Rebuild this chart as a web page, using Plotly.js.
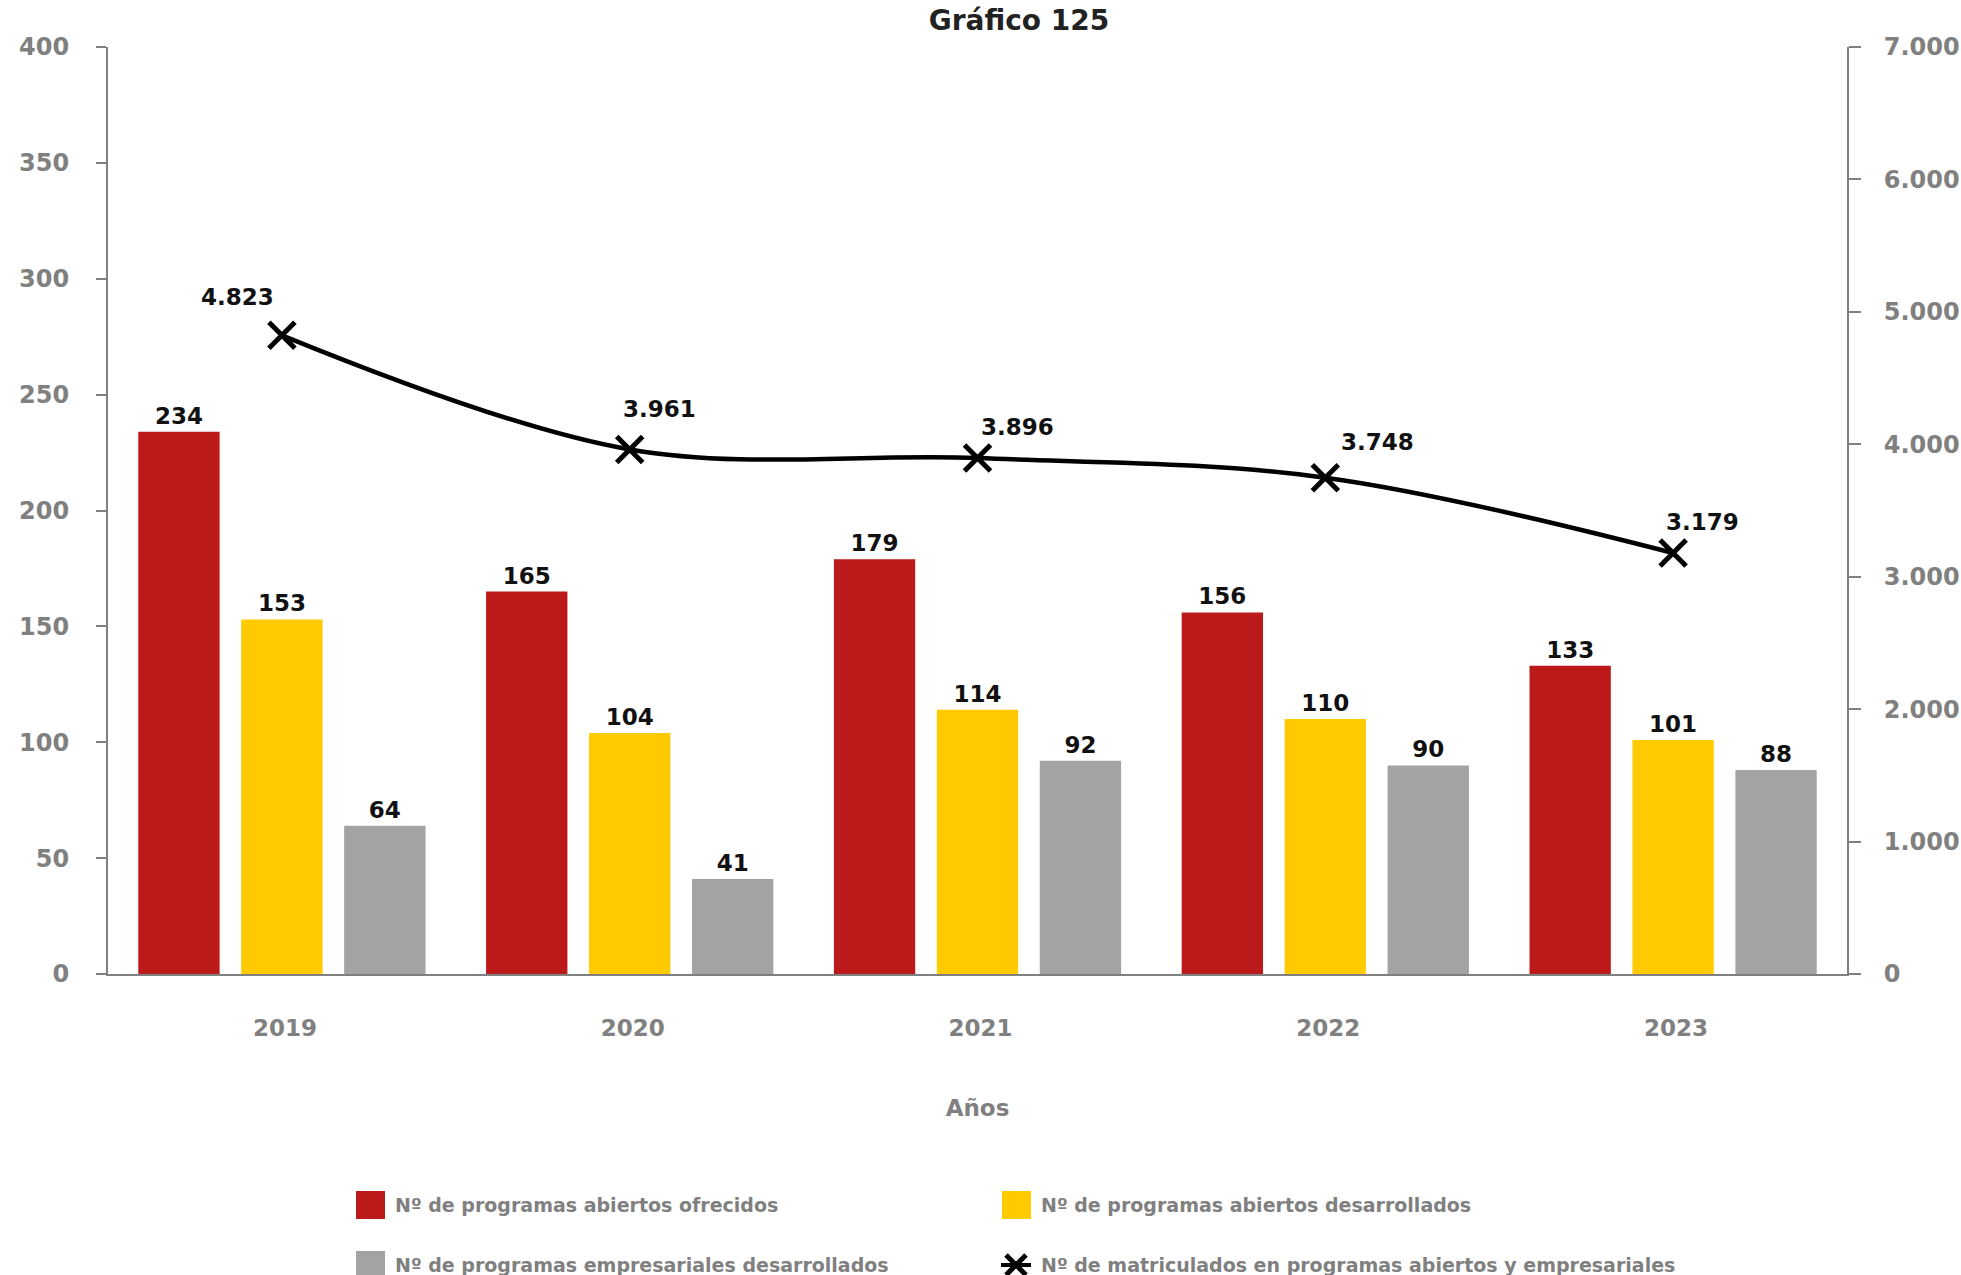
<!DOCTYPE html>
<html>
<head>
<meta charset="utf-8">
<script src="https://cdn.plot.ly/plotly-3.0.1.min.js"></script>
<style>
  html, body { margin: 0; padding: 0; background: #ffffff; }
  #chart { width: 1961px; height: 1275px; }
</style>
</head>
<body>
<div id="chart"></div>
<script>
// ---- Data ----
const years = ['2019', '2020', '2021', '2022', '2023'];
const abiertosOfrecidos = [234, 165, 179, 156, 133];
const abiertosDesarrollados = [153, 104, 114, 110, 101];
const empresarialesDesarrollados = [64, 41, 92, 90, 88];
const matriculados = [4823, 3961, 3896, 3748, 3179];

const seriesNames = [
  'Nº de programas abiertos ofrecidos',
  'Nº de programas abiertos desarrollados',
  'Nº de programas empresariales desarrollados',
  'Nº de matriculados en programas abiertos y empresariales'
];
const chartTitle = 'Gráfico 125';
const xTitle = 'Años';

// ---- Styles ----
const W = 1961, H = 1275;
const M = { l: 108, r: 114, t: 47, b: 301 };
const colors = ['#BC1A1A', '#FFCB00', '#A3A3A3', '#000000'];
const gray = '#808080';
const FONT = 'DejaVu Sans, sans-serif';
// label offsets (px) for line labels
const lineLabelShift = [[-44, 38], [30, 40], [40, 31], [52, 36], [29, 31]];

const plotW = W - M.l - M.r, plotH = H - M.t - M.b;
const px2x = px => (px - M.l) / plotW;
const py2y = py => (H - M.b - py) / plotH;

function barTrace(vals, i) {
  return {
    type: 'bar', x: years, y: vals, name: seriesNames[i],
    marker: { color: colors[i] },
    text: vals.map(String), textposition: 'outside',
    textfont: { family: FONT, size: 23, color: '#111111', weight: 700 },
    cliponaxis: false, showlegend: false, hoverinfo: 'skip'
  };
}

const traces = [
  barTrace(abiertosOfrecidos, 0),
  barTrace(abiertosDesarrollados, 1),
  barTrace(empresarialesDesarrollados, 2),
  {
    type: 'scatter', mode: 'lines+markers', x: years, y: matriculados, yaxis: 'y2',
    name: seriesNames[3],
    line: { color: '#000000', width: 4.5, shape: 'spline', smoothing: 1 },
    marker: { symbol: 'x-thin', size: 26, line: { color: '#000000', width: 5 } },
    cliponaxis: false, showlegend: false
  }
];

const fmt = v => v.toLocaleString('de-DE');

const annotations = matriculados.map((v, i) => ({
  x: i, y: v, xref: 'x', yref: 'y2', text: fmt(v), showarrow: false,
  xshift: lineLabelShift[i][0], yshift: lineLabelShift[i][1],
  font: { family: FONT, size: 23, color: '#111111', weight: 700 }
}));

// custom legend
const legendItems = [
  { x: 356, y: 1205, i: 0 }, { x: 1002, y: 1205, i: 1 },
  { x: 356, y: 1265, i: 2 }, { x: 1002, y: 1265, i: 3 }
];
const shapes = [];
legendItems.forEach(it => {
  if (it.i < 3) {
    shapes.push({ type: 'rect', xref: 'paper', yref: 'paper',
      x0: px2x(it.x), x1: px2x(it.x + 29), y0: py2y(it.y + 14), y1: py2y(it.y - 14),
      fillcolor: colors[it.i], line: { width: 0 } });
  } else {
    const cx = it.x + 14, cy = it.y;
    shapes.push({ type: 'line', xref: 'paper', yref: 'paper',
      x0: px2x(cx - 15), x1: px2x(cx + 15), y0: py2y(cy), y1: py2y(cy),
      line: { color: '#000', width: 4 } });
    shapes.push({ type: 'line', xref: 'paper', yref: 'paper',
      x0: px2x(cx - 10), x1: px2x(cx + 10), y0: py2y(cy - 10), y1: py2y(cy + 10),
      line: { color: '#000', width: 5 } });
    shapes.push({ type: 'line', xref: 'paper', yref: 'paper',
      x0: px2x(cx - 10), x1: px2x(cx + 10), y0: py2y(cy + 10), y1: py2y(cy - 10),
      line: { color: '#000', width: 5 } });
  }
  annotations.push({ xref: 'paper', yref: 'paper', x: px2x(it.x + 37), y: py2y(it.y),
    xanchor: 'left', yanchor: 'middle', showarrow: false, text: seriesNames[it.i],
    font: { family: FONT, size: 19, color: gray, weight: 700 } });
});

const tickFont = { family: FONT, size: 24, color: gray, weight: 700 };

const layout = {
  width: W, height: H,
  margin: M,
  paper_bgcolor: '#ffffff', plot_bgcolor: '#ffffff',
  separators: ',.',
  font: { family: FONT },
  title: {
    text: chartTitle, xref: 'container', yref: 'container',
    x: 1019 / W, y: 1 - 20 / H, xanchor: 'center', yanchor: 'middle',
    font: { family: FONT, size: 28, color: '#222222', weight: 700 }
  },
  barmode: 'group', bargap: 0.112, bargroupgap: 0.21,
  xaxis: {
    type: 'category', range: [-0.5, 4.5], showgrid: false, zeroline: false,
    showline: true, linecolor: gray, linewidth: 2,
    ticks: '', tickfont: { family: FONT, size: 23, color: gray, weight: 700 },
    ticklabelstandoff: 32, ticklabelshift: 3,
    title: { text: xTitle, font: { family: FONT, size: 23, color: gray, weight: 700 }, standoff: 60 },
    automargin: false
  },
  yaxis: {
    range: [0, 400], dtick: 50, showgrid: false, zeroline: false,
    showline: true, linecolor: gray, linewidth: 2,
    ticks: 'outside', ticklen: 10, tickwidth: 2, tickcolor: gray,
    tickfont: tickFont, ticklabelstandoff: 22, automargin: false
  },
  yaxis2: {
    overlaying: 'y', side: 'right', range: [0, 7000], dtick: 1000,
    tickformat: ',d', showgrid: false, zeroline: false,
    showline: true, linecolor: gray, linewidth: 2,
    ticks: 'outside', ticklen: 12, tickwidth: 2, tickcolor: gray,
    tickfont: tickFont, ticklabelstandoff: 18, automargin: false
  },
  showlegend: false,
  annotations: annotations,
  shapes: shapes
};

Plotly.newPlot('chart', traces, layout, { displayModeBar: false, staticPlot: true });
</script>
</body>
</html>
